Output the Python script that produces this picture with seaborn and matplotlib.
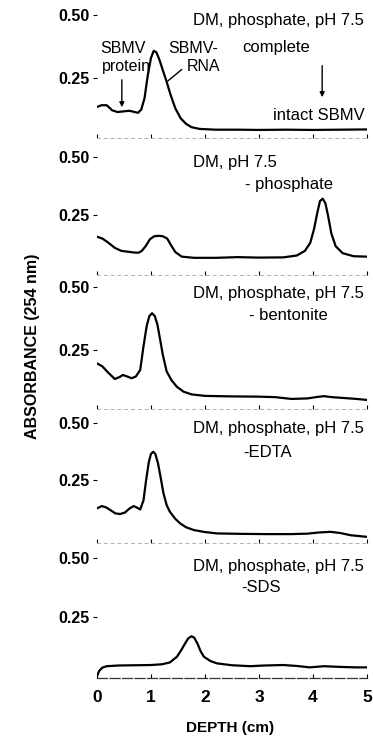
import numpy as np
import pandas as pd
import matplotlib
matplotlib.use('Agg')
import matplotlib.pyplot as plt
import seaborn as sns

# depth (cm) and absorbance for each gradient
depth_complete = [0, 0.08, 0.18, 0.28, 0.38, 0.5, 0.6, 0.7, 0.76, 0.82, 0.88, 0.94, 1.0, 1.05, 1.1,
                  1.16, 1.22, 1.29, 1.36, 1.45, 1.55, 1.65, 1.75, 1.9, 2.2, 2.6, 3.0, 3.5, 4.0, 4.5, 5.0]
abs_complete = [0.135, 0.142, 0.142, 0.122, 0.115, 0.118, 0.12, 0.115, 0.112, 0.125, 0.17, 0.26, 0.33,
                0.358, 0.352, 0.32, 0.28, 0.235, 0.185, 0.13, 0.09, 0.068, 0.055, 0.048, 0.045, 0.045,
                0.044, 0.045, 0.044, 0.045, 0.046]

depth_phosphate = [0, 0.1, 0.2, 0.33, 0.45, 0.55, 0.68, 0.77, 0.83, 0.9, 0.98, 1.06, 1.14, 1.22, 1.3,
                   1.37, 1.45, 1.57, 1.8, 2.2, 2.6, 3.0, 3.45, 3.7, 3.85, 3.95, 4.02, 4.08, 4.13, 4.18,
                   4.23, 4.28, 4.34, 4.42, 4.55, 4.75, 5.0]
abs_phosphate = [0.156, 0.148, 0.132, 0.108, 0.095, 0.092, 0.088, 0.087, 0.095, 0.115, 0.145, 0.158,
                 0.16, 0.158, 0.148, 0.12, 0.09, 0.07, 0.065, 0.065, 0.068, 0.066, 0.067, 0.075, 0.095,
                 0.13, 0.19, 0.26, 0.31, 0.32, 0.3, 0.245, 0.17, 0.115, 0.085, 0.072, 0.07]

depth_bentonite = [0, 0.1, 0.2, 0.33, 0.42, 0.48, 0.56, 0.64, 0.72, 0.8, 0.86, 0.92, 0.97, 1.02, 1.07,
                   1.12, 1.17, 1.22, 1.29, 1.38, 1.48, 1.6, 1.75, 2.0, 2.5, 3.0, 3.3, 3.6, 3.9, 4.05,
                   4.2, 4.35, 4.55, 4.8, 5.0]
abs_bentonite = [0.197, 0.185, 0.162, 0.135, 0.143, 0.151, 0.145, 0.138, 0.145, 0.171, 0.263, 0.345,
                 0.385, 0.396, 0.385, 0.35, 0.29, 0.23, 0.165, 0.13, 0.104, 0.085, 0.074, 0.068, 0.066,
                 0.065, 0.063, 0.056, 0.058, 0.063, 0.067, 0.063, 0.06, 0.056, 0.052]

depth_edta = [0, 0.09, 0.17, 0.25, 0.34, 0.43, 0.52, 0.6, 0.68, 0.75, 0.8, 0.86, 0.91, 0.96, 1.0, 1.04,
              1.08, 1.13, 1.18, 1.23, 1.29, 1.35, 1.45, 1.54, 1.65, 1.79, 2.0, 2.22, 2.7, 3.15, 3.6,
              3.9, 4.1, 4.32, 4.5, 4.7, 5.0]
abs_edta = [0.126, 0.136, 0.13, 0.118, 0.104, 0.101, 0.108, 0.125, 0.136, 0.128, 0.121, 0.16, 0.25,
            0.33, 0.365, 0.374, 0.365, 0.323, 0.26, 0.193, 0.14, 0.111, 0.08, 0.06, 0.043, 0.031,
            0.022, 0.016, 0.014, 0.013, 0.013, 0.015, 0.02, 0.023, 0.018, 0.008, 0.001]

depth_sds = [0, 0.04, 0.1, 0.18, 0.4, 0.7, 1.0, 1.2, 1.35, 1.48, 1.56, 1.63, 1.69, 1.75, 1.8, 1.86,
             1.92, 1.98, 2.1, 2.22, 2.5, 2.84, 3.1, 3.45, 3.7, 3.94, 4.2, 4.5, 4.8, 5.0]
abs_sds = [0.0, 0.022, 0.036, 0.042, 0.045, 0.046, 0.047, 0.05, 0.058, 0.082, 0.11, 0.138, 0.16, 0.169,
           0.163, 0.138, 0.105, 0.082, 0.064, 0.054, 0.046, 0.042, 0.045, 0.047, 0.043, 0.037, 0.042,
           0.039, 0.037, 0.037]

conditions = ['- phosphate', '- bentonite', '-EDTA', '-SDS']
ytick_vals = [0.25, 0.50]
ytick_labels = ['0.25', '0.50']
xtick_vals = [0, 1, 2, 3, 4, 5]

sns.set_theme(style='white')
plt.rcParams['font.family'] = ['Liberation Sans', 'DejaVu Sans']
plt.rcParams['text.color'] = 'black'
plt.rcParams['xtick.color'] = 'black'
plt.rcParams['ytick.color'] = 'black'

W, H = 373, 737
fig = plt.figure(figsize=(W / 100, H / 100), dpi=100)

# panel layout in pixels: bottom edge, lower y-limit, pixels per absorbance unit
panels = [
    (138, 0.012, 252, depth_complete, abs_complete),
    (275, -0.009, 232, depth_phosphate, abs_phosphate),
    (409, 0.016, 252, depth_bentonite, abs_bentonite),
    (543, -0.026, 228, depth_edta, abs_edta),
    (678, -0.008, 236, depth_sds, abs_sds),
]
left, width = 97, 270
axes = []
for i, (bot, ymin, scale, d, a) in enumerate(panels):
    h = (0.55 - ymin) * scale
    ax = fig.add_axes([left / W, 1 - bot / H, width / W, h / H])
    ax.patch.set_alpha(0)
    df = pd.DataFrame({'depth': d, 'absorbance': a})
    sns.lineplot(data=df, x='depth', y='absorbance', ax=ax, color='black', lw=1.6, sort=False)
    ax.set_xlim(0, 5)
    ax.set_ylim(ymin, 0.55)
    ax.set_xlabel('')
    ax.set_ylabel('')
    for s in ['top', 'right', 'left']:
        ax.spines[s].set_visible(False)
    ax.set_yticks(ytick_vals)
    ax.set_yticklabels(ytick_labels, fontsize=11.5, fontweight='bold')
    ax.tick_params(axis='y', direction='out', length=3, width=0.8, color='black', pad=2, left=True)
    ax.set_xticks(xtick_vals)
    ax.tick_params(axis='x', direction='in', length=3, width=0.8, color='black', bottom=True)
    if i < 4:
        ax.spines['bottom'].set_color('#b0b0b0')
        ax.spines['bottom'].set_linewidth(0.7)
        ax.spines['bottom'].set_linestyle((0, (3, 4)))
        ax.set_xticklabels([])
    else:
        ax.spines['bottom'].set_color('#333333')
        ax.spines['bottom'].set_linewidth(0.9)
        ax.spines['bottom'].set_linestyle((0, (8, 2)))
        ax.set_xticklabels([str(v) for v in xtick_vals], fontsize=12.5, fontweight='bold')
        ax.tick_params(axis='x', pad=9)
    axes.append(ax)

fs = 12
ax1, ax2, ax3, ax4, ax5 = axes
ax1.text(4.95, 0.48, 'DM, phosphate, pH 7.5', ha='right', va='center', fontsize=fs)
ax1.text(3.31, 0.373, 'complete', ha='center', va='center', fontsize=fs)
ax1.text(0.48, 0.366, 'SBMV', ha='center', va='center', fontsize=11.5)
ax1.text(0.54, 0.296, 'protein', ha='center', va='center', fontsize=11.5)
ax1.annotate('', xy=(0.46, 0.123), xytext=(0.46, 0.254),
             arrowprops=dict(arrowstyle='-|>', color='black', lw=1, mutation_scale=7))
ax1.text(1.78, 0.366, 'SBMV-', ha='center', va='center', fontsize=11.5)
ax1.text(1.98, 0.296, 'RNA', ha='center', va='center', fontsize=11.5)
ax1.plot([1.57, 1.31], [0.284, 0.238], color='black', lw=1)
ax1.text(4.95, 0.103, 'intact SBMV', ha='right', va='center', fontsize=fs)
ax1.annotate('', xy=(4.17, 0.163), xytext=(4.17, 0.31),
             arrowprops=dict(arrowstyle='-|>', color='black', lw=1, mutation_scale=7))

ax2.text(1.78, 0.478, 'DM, pH 7.5', ha='left', va='center', fontsize=fs)
ax2.text(2.74, 0.379, conditions[0], ha='left', va='center', fontsize=fs)

ax3.text(4.95, 0.476, 'DM, phosphate, pH 7.5', ha='right', va='center', fontsize=fs)
ax3.text(3.54, 0.389, conditions[1], ha='center', va='center', fontsize=fs)

ax4.text(4.95, 0.478, 'DM, phosphate, pH 7.5', ha='right', va='center', fontsize=fs)
ax4.text(3.15, 0.373, conditions[2], ha='center', va='center', fontsize=fs)

ax5.text(4.95, 0.466, 'DM, phosphate, pH 7.5', ha='right', va='center', fontsize=fs)
ax5.text(3.04, 0.377, conditions[3], ha='center', va='center', fontsize=fs)

fig.text(33 / W, 1 - 346 / H, 'ABSORBANCE (254 nm)', rotation=90, ha='center', va='center',
         fontsize=11.5, fontweight='bold')
fig.text(230 / W, 1 - 728 / H, 'DEPTH (cm)', ha='center', va='center', fontsize=11, fontweight='bold')

fig.savefig('out.png', dpi=100)
